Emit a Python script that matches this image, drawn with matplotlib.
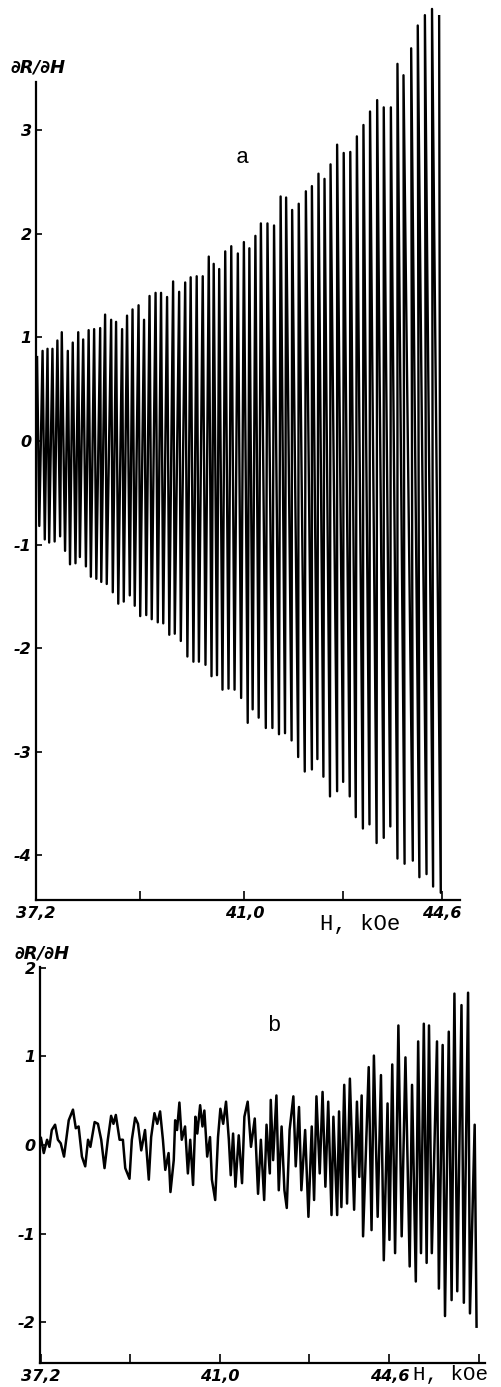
import numpy as np
import matplotlib
matplotlib.use("Agg")
import matplotlib.pyplot as plt

# panel a: tops and bottoms of the spikes, H in kOe
a_max_h = [37.22, 37.32, 37.41, 37.50, 37.59, 37.67, 37.78, 37.87, 37.97, 38.06,
           38.16, 38.26, 38.37, 38.46, 38.57, 38.66, 38.77, 38.86, 38.96, 39.07,
           39.17, 39.27, 39.38, 39.48, 39.59, 39.70, 39.81, 39.92, 40.02, 40.13,
           40.24, 40.35, 40.44, 40.54, 40.65, 40.76, 40.88, 40.99, 41.09, 41.20,
           41.30, 41.42, 41.54, 41.66, 41.76, 41.87, 41.99, 42.12, 42.23, 42.35,
           42.46, 42.57, 42.69, 42.81, 42.93, 43.05, 43.17, 43.29, 43.42, 43.54,
           43.67, 43.79, 43.90, 44.04, 44.16, 44.29, 44.42, 44.55]
a_max_v = [0.81, 0.87, 0.89, 0.89, 0.97, 1.05, 0.87, 0.95, 1.05, 0.98,
           1.07, 1.08, 1.09, 1.22, 1.17, 1.15, 1.08, 1.21, 1.27, 1.31,
           1.17, 1.40, 1.43, 1.43, 1.39, 1.54, 1.44, 1.53, 1.58, 1.59,
           1.59, 1.78, 1.71, 1.66, 1.83, 1.88, 1.81, 1.92, 1.86, 1.98,
           2.10, 2.10, 2.08, 2.36, 2.35, 2.23, 2.29, 2.41, 2.46, 2.58,
           2.53, 2.67, 2.86, 2.78, 2.79, 2.94, 3.05, 3.18, 3.29, 3.22,
           3.22, 3.64, 3.53, 3.79, 4.01, 4.11, 4.17, 4.10]
a_min_h = [37.26, 37.36, 37.44, 37.54, 37.64, 37.73, 37.82, 37.92, 38.00, 38.11,
           38.20, 38.30, 38.39, 38.49, 38.60, 38.70, 38.80, 38.91, 39.00, 39.10,
           39.21, 39.31, 39.42, 39.52, 39.63, 39.73, 39.84, 39.96, 40.07, 40.17,
           40.29, 40.40, 40.50, 40.60, 40.71, 40.82, 40.94, 41.06, 41.15, 41.26,
           41.39, 41.51, 41.63, 41.74, 41.86, 41.98, 42.10, 42.23, 42.33, 42.44,
           42.56, 42.69, 42.80, 42.92, 43.03, 43.16, 43.28, 43.41, 43.54, 43.66,
           43.79, 43.92, 44.07, 44.19, 44.32, 44.44, 44.58]
a_min_v = [-0.82, -0.95, -0.98, -0.97, -0.92, -1.06, -1.19, -1.18, -1.12, -1.21,
           -1.31, -1.33, -1.36, -1.38, -1.46, -1.57, -1.55, -1.49, -1.59, -1.69,
           -1.68, -1.72, -1.75, -1.76, -1.87, -1.86, -1.93, -2.08, -2.13, -2.13,
           -2.16, -2.27, -2.26, -2.40, -2.39, -2.40, -2.48, -2.72, -2.59, -2.67,
           -2.77, -2.77, -2.83, -2.82, -2.89, -3.05, -3.19, -3.17, -3.07, -3.24,
           -3.43, -3.38, -3.29, -3.43, -3.63, -3.74, -3.70, -3.88, -3.83, -3.72,
           -4.03, -4.08, -4.05, -4.21, -4.18, -4.30, -4.36]

# panel b: turning points of the trace
b_h = [37.20, 37.26, 37.33, 37.38, 37.43, 37.50, 37.56, 37.62, 37.69, 37.79,
       37.88, 37.94, 38.00, 38.07, 38.14, 38.20, 38.25, 38.34, 38.41, 38.48,
       38.55, 38.62, 38.69, 38.74, 38.79, 38.87, 38.94, 38.99, 39.08, 39.13,
       39.20, 39.26, 39.33, 39.41, 39.49, 39.54, 39.61, 39.67, 39.73, 39.79,
       39.84, 39.91, 39.95, 40.02, 40.05, 40.09, 40.14, 40.19, 40.26, 40.32,
       40.37, 40.43, 40.48, 40.52, 40.58, 40.63, 40.67, 40.73, 40.79, 40.83,
       40.90, 40.96, 41.01, 41.07, 41.13, 41.19, 41.23, 41.28, 41.33, 41.40,
       41.47, 41.52, 41.59, 41.66, 41.74, 41.81, 41.87, 41.94, 41.99, 42.06,
       42.08, 42.13, 42.20, 42.25, 42.31, 42.37, 42.42, 42.48, 42.56, 42.61,
       42.68, 42.73, 42.81, 42.88, 42.95, 43.00, 43.05, 43.12, 43.18, 43.24,
       43.30, 43.37, 43.41, 43.49, 43.53, 43.58, 43.64, 43.70, 43.76, 43.85,
       43.91, 43.96, 44.01, 44.04, 44.16, 44.22, 44.27, 44.35, 44.42, 44.48,
       44.56, 44.60, 44.66, 44.72, 44.79, 44.86, 44.94, 45.03, 45.08, 45.16,
       45.21, 45.27, 45.33, 45.39, 45.44, 45.50, 45.61, 45.65, 45.73, 45.78,
       45.86, 45.92, 45.98, 46.04, 46.13, 46.18, 46.27, 46.31, 46.41, 46.45]
b_v = [0.08, -0.09, 0.06, -0.02, 0.17, 0.23, 0.06, 0.02, -0.13, 0.28,
       0.40, 0.19, 0.21, -0.13, -0.24, 0.06, -0.02, 0.26, 0.24, 0.06,
       -0.26, 0.06, 0.33, 0.24, 0.34, 0.06, 0.06, -0.26, -0.38, 0.06,
       0.31, 0.24, -0.06, 0.17, -0.39, 0.09, 0.36, 0.24, 0.38, 0.06,
       -0.28, -0.09, -0.53, -0.17, 0.28, 0.17, 0.48, 0.06, 0.21, -0.32,
       0.06, -0.45, 0.32, 0.13, 0.45, 0.21, 0.39, -0.13, 0.09, -0.39,
       -0.62, 0.09, 0.41, 0.24, 0.49, 0.06, -0.34, 0.13, -0.47, 0.11,
       -0.43, 0.32, 0.49, -0.02, 0.30, -0.55, 0.06, -0.62, 0.23, -0.32,
       0.51, -0.17, 0.56, -0.51, 0.21, -0.51, -0.71, 0.17, 0.55, -0.24,
       0.43, -0.51, 0.17, -0.81, 0.21, -0.62, 0.55, -0.32, 0.60, -0.47,
       0.49, -0.79, 0.32, -0.79, 0.38, -0.70, 0.68, -0.66, 0.75, -0.73,
       0.49, -0.36, 0.56, -1.03, 0.88, -0.96, 1.01, -0.81, 0.79, -1.30,
       0.47, -1.07, 0.91, -1.22, 1.35, -1.03, 0.99, -1.37, 0.68, -1.54,
       1.17, -1.22, 1.37, -1.33, 1.35, -1.22, 1.17, -1.62, 1.13, -1.93,
       1.28, -1.75, 1.71, -1.65, 1.58, -1.78, 1.72, -1.90, 0.23, -2.05]

a_yticks = [3, 2, 1, 0, -1, -2, -3, -4]
b_yticks = [2, 1, 0, -1, -2]
x_labelled = [37.2, 41.0, 44.6]
x_labels = ["37,2", "41,0", "44,6"]

lab = dict(family="DejaVu Sans", style="italic", weight="bold", size=11.5)
ylab = dict(family="DejaVu Sans", style="italic", weight="bold", size=13)
mono = dict(family="Liberation Mono", size=16)

fig = plt.figure(figsize=(5.02, 13.87), dpi=100)
ax_a = fig.add_axes([0.0717, 0.3511, 0.8446, 0.5898])
ax_b = fig.add_axes([0.0797, 0.0173, 0.8865, 0.2855])


def style_axes(ax, xlim, ylim, yticks, minor_x):
    for s in ["top", "right"]:
        ax.spines[s].set_visible(False)
    for s in ["left", "bottom"]:
        ax.spines[s].set_linewidth(1.6)
    ax.set_xlim(*xlim)
    ax.set_ylim(*ylim)
    ax.set_xticks(x_labelled)
    ax.set_xticklabels(x_labels, fontdict=lab)
    ax.set_xticks(minor_x, minor=True)
    ax.set_yticks(yticks)
    ax.set_yticklabels([str(t) for t in yticks], fontdict=lab)
    ax.tick_params(axis="x", which="both", direction="in", length=6.5, width=1.2, pad=4)
    ax.tick_params(axis="y", direction="in", length=4, width=1.2, pad=3)


# panel a: alternate top, bottom, top, ...
ha, va = [], []
for i in range(len(a_max_h)):
    ha.append(a_max_h[i])
    va.append(a_max_v[i])
    if i < len(a_min_h):
        ha.append(a_min_h[i])
        va.append(a_min_v[i])
ax_a.plot(ha, va, color="black", lw=1.7, clip_on=False)
style_axes(ax_a, (37.2, 44.93), (-4.43, 3.465), a_yticks, [39.1, 42.8])
ax_a.text(40.97, 2.74, "a", ha="center", va="center", **mono)

# panel b
ax_b.plot(b_h, b_v, color="black", lw=1.8, clip_on=False)
style_axes(ax_b, (37.18, 46.63), (-2.46, 2.01), b_yticks, [39.1, 42.9, 46.5])
ax_b.text(42.15, 1.35, "b", ha="center", va="center", **mono)

fig.text(0.02, 0.948, "\u2202R/\u2202H", **ylab)
fig.text(0.028, 0.309, "\u2202R/\u2202H", **ylab)
fig.text(0.6375, 0.3295, "H, kOe", va="baseline", **mono)
fig.text(0.822, 0.005, "H, kOe", va="baseline", family="Liberation Mono", size=15)

fig.savefig("out.png", dpi=100)
